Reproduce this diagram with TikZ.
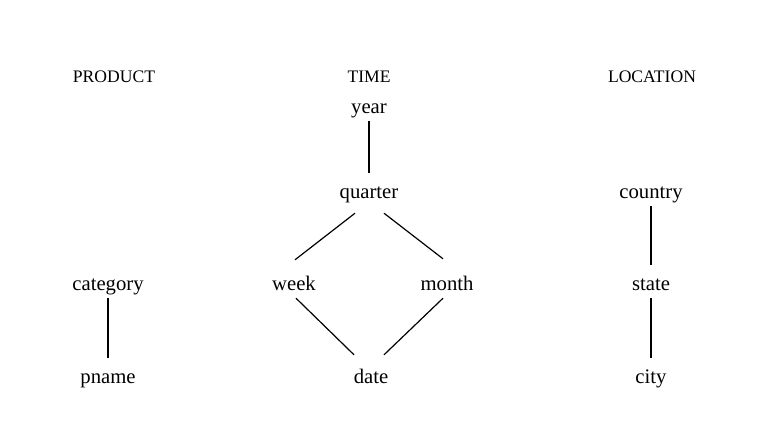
\documentclass[tikz,border=0pt]{standalone}
\usepackage{fontspec}
\setmainfont{Liberation Serif}
\begin{document}
\begin{tikzpicture}[x=1pt,y=-1pt,
	dim/.style={anchor=base,inner sep=0pt,font=\fontsize{17.6}{20}\selectfont},
	lvl/.style={anchor=base,inner sep=3pt,text height=22pt,text depth=5pt,font=\fontsize{20.7}{24}\selectfont},
	link/.style={line width=1.2pt}]
	\useasboundingbox (0,0) rectangle (783,447);
	\node[dim] at (114,82) (product) {PRODUCT};
	\node[dim] at (369,82) (time) {TIME};
	\node[dim] at (652,82) (location) {LOCATION};
	\node[lvl] at (369,113) (year) {year};
	\node[lvl] at (369,198) (quarter) {quarter};
	\node[lvl] at (651,198) (country) {country};
	\node[lvl] at (108,290) (category) {category};
	\node[lvl] at (294,290) (week) {week};
	\node[lvl] at (447,290) (month) {month};
	\node[lvl] at (651,290) (state) {state};
	\node[lvl] at (108,383) (pname) {pname};
	\node[lvl] at (371,383) (date) {date};
	\node[lvl] at (651,383) (city) {city};
	\draw[link] (year) -- (quarter);
	\draw[link] ([xshift=-14pt,yshift=-7pt]quarter.south) -- ([xshift=1pt,yshift=5pt]week.north);
	\draw[link] ([xshift=15pt,yshift=-7pt]quarter.south) -- ([xshift=-4pt,yshift=6pt]month.north);
	\draw[link] ([xshift=2pt]week.south) -- ([xshift=-17pt,yshift=3pt]date.north);
	\draw[link] ([xshift=-4pt]month.south) -- ([xshift=13pt,yshift=3pt]date.north);
	\draw[link] (country) -- (state);
	\draw[link] (state) -- (city);
	\draw[link] (category) -- (pname);
\end{tikzpicture}
\end{document}
